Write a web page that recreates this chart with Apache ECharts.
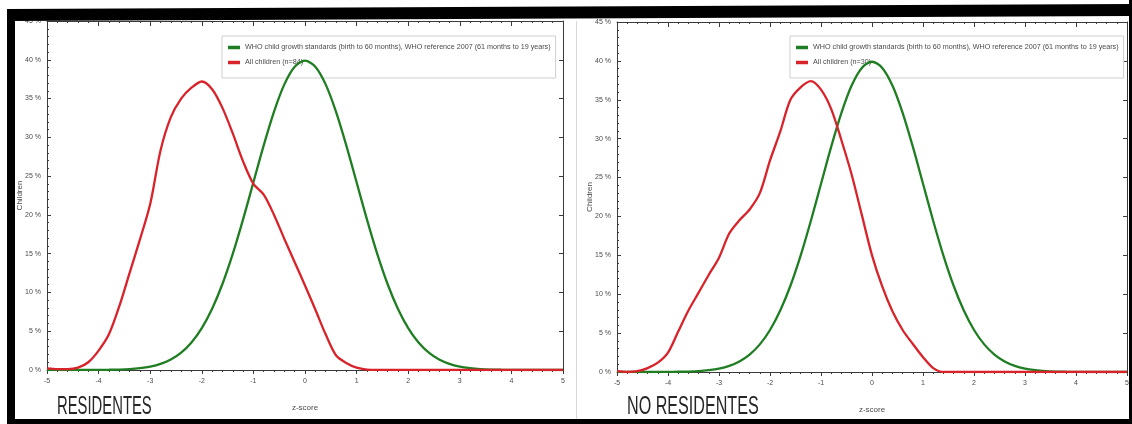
<!DOCTYPE html>
<html>
<head>
<meta charset="utf-8">
<script src="https://cdn.jsdelivr.net/npm/echarts@6/dist/echarts.min.js"></script>
<style>
  html, body { margin: 0; padding: 0; background: #ffffff; }
  #chart { width: 1132px; height: 424px; }
</style>
</head>
<body>
<div id="chart"></div>
<script>
// z-score positions shared by every curve (step 0.2)
const zScores = [-5.0, -4.8, -4.6, -4.4, -4.2, -4.0, -3.8, -3.6, -3.4, -3.2,
  -3.0, -2.8, -2.6, -2.4, -2.2, -2.0, -1.8, -1.6, -1.4, -1.2,
  -1.0, -0.8, -0.6, -0.4, -0.2, 0.0, 0.2, 0.4, 0.6, 0.8,
  1.0, 1.2, 1.4, 1.6, 1.8, 2.0, 2.2, 2.4, 2.6, 2.8,
  3.0, 3.2, 3.4, 3.6, 3.8, 4.0, 4.2, 4.4, 4.6, 4.8, 5.0];

// WHO reference distribution (% of children)
const whoReference = [0, 0, 0, 0, 0, 0.01, 0.03, 0.06, 0.12, 0.24,
  0.44, 0.79, 1.36, 2.24, 3.55, 5.40, 7.90, 11.09, 14.97, 19.42,
  24.20, 28.97, 33.32, 36.83, 39.10, 39.89, 39.10, 36.83, 33.32, 28.97,
  24.20, 19.42, 14.97, 11.09, 7.90, 5.40, 3.55, 2.24, 1.36, 0.79,
  0.44, 0.24, 0.12, 0.06, 0.03, 0.01, 0, 0, 0, 0, 0];

// Residents (n=84)
const residentes = [0.2, 0.1, 0.1, 0.3, 1.0, 2.5, 4.6, 8.2, 12.5, 16.8,
  21.4, 28.3, 32.6, 35.0, 36.4, 37.2, 36.2, 33.8, 30.5, 26.9,
  24.0, 22.6, 20.0, 16.9, 13.9, 10.9, 7.8, 4.6, 1.9, 0.9,
  0.3, 0.05, 0, 0, 0, 0, 0, 0, 0, 0,
  0, 0, 0, 0, 0, 0, 0, 0, 0, 0, 0];

// Non-residents (n=30)
const noResidentes = [0.1, 0.0, 0.1, 0.5, 1.2, 2.5, 5.2, 7.9, 10.2, 12.5,
  14.7, 17.8, 19.5, 20.9, 23.0, 27.2, 30.9, 35.0, 36.6, 37.4,
  36.3, 33.8, 29.8, 25.4, 20.2, 15.0, 11.0, 7.8, 5.4, 3.6,
  1.9, 0.5, 0, 0, 0, 0, 0, 0, 0, 0,
  0, 0, 0, 0, 0, 0, 0, 0, 0, 0, 0];

const xTicks = { min: -5, max: 5, interval: 1 };
const yTicks = { min: 0, max: 45, interval: 5 };

const whoName = 'WHO child growth standards (birth to 60 months), WHO reference 2007 (61 months to 19 years)';
const panelNames = ['All children (n=84)', 'All children (n=30)'];
const panelTitles = ['RESIDENTES', 'NO RESIDENTES'];

const GREEN = '#1f7d22';
const RED = '#d9232b';
const AXIS = '#3a3a3a';
const TEXT = '#4a4a4a';
const FONT = 'Liberation Sans';

const pairs = (vals) => zScores.map((z, i) => [z, vals[i]]);

const grids = [
  { left: 47, right: 569, top: 21, bottom: 54 },
  { left: 617, right: -2, top: 22, bottom: 52 }
];

function bottomX(gi) {
  return {
    gridIndex: gi, type: 'value', position: 'bottom',
    min: xTicks.min, max: xTicks.max, interval: xTicks.interval,
    axisLine: { onZero: false, lineStyle: { color: AXIS, width: 1 } },
    axisTick: { show: true, length: 4, lineStyle: { color: AXIS } },
    minorTick: { show: true, splitNumber: 5, length: 2, lineStyle: { color: AXIS } },
    splitLine: { show: false },
    axisLabel: { color: TEXT, fontSize: 7, margin: 8, fontFamily: FONT },
    name: 'z-score', nameLocation: 'middle', nameGap: 34, nameMoveOverlap: false,
    nameTextStyle: { color: TEXT, fontSize: 8, fontFamily: FONT }
  };
}
function topX(gi) {
  return {
    gridIndex: gi, type: 'value', position: 'top',
    min: xTicks.min, max: xTicks.max, interval: xTicks.interval,
    axisLine: { onZero: false, lineStyle: { color: AXIS, width: 1 } },
    axisTick: { show: true, inside: true, length: 5, lineStyle: { color: AXIS } },
    minorTick: { show: true, splitNumber: 5, length: 2, lineStyle: { color: AXIS } },
    splitLine: { show: false },
    axisLabel: { show: false }
  };
}
function leftY(gi) {
  return {
    gridIndex: gi, type: 'value', position: 'left',
    min: yTicks.min, max: yTicks.max, interval: yTicks.interval,
    axisLine: { show: true, onZero: false, lineStyle: { color: AXIS, width: 1 } },
    axisTick: { show: true, inside: true, length: 4, lineStyle: { color: AXIS } },
    minorTick: { show: true, splitNumber: 5, length: 2, lineStyle: { color: AXIS } },
    splitLine: { show: false },
    axisLabel: { color: TEXT, fontSize: 7, margin: 6, formatter: '{value} %', fontFamily: FONT },
    name: 'Children', nameLocation: 'middle', nameGap: 23, nameMoveOverlap: false,
    nameTextStyle: { color: TEXT, fontSize: 8, fontFamily: FONT }
  };
}
function rightY(gi) {
  return {
    gridIndex: gi, type: 'value', position: 'right',
    min: yTicks.min, max: yTicks.max, interval: yTicks.interval,
    axisLine: { show: true, onZero: false, lineStyle: { color: AXIS, width: 1 } },
    axisTick: { show: true, inside: true, length: 4, lineStyle: { color: AXIS } },
    minorTick: { show: false },
    splitLine: { show: false },
    axisLabel: { show: false }
  };
}

function curve(name, vals, color, gi) {
  return {
    name: name, type: 'line', xAxisIndex: gi * 2, yAxisIndex: gi * 2,
    data: pairs(vals), smooth: 0.3, showSymbol: false, symbol: 'none',
    lineStyle: { color: color, width: 2.3 }, itemStyle: { color: color },
    clip: true, z: 3
  };
}

// legend box sits underneath the curves
function legendAt(left, names) {
  return {
    left: left, top: 36, orient: 'vertical', z: 1,
    data: names,
    icon: 'rect', itemWidth: 12, itemHeight: 3.5, itemGap: 8,
    padding: [8, 5, 12, 6],
    backgroundColor: '#ffffff', borderColor: '#cfcfcf', borderWidth: 1,
    textStyle: { color: TEXT, fontSize: 7.2, fontFamily: FONT },
    selectedMode: false
  };
}

const option = {
  backgroundColor: '#ffffff',
  animation: false,
  grid: grids,
  xAxis: [bottomX(0), topX(0), bottomX(1), topX(1)],
  yAxis: [leftY(0), rightY(0), leftY(1), rightY(1)],
  legend: [
    legendAt(222, [whoName, panelNames[0]]),
    legendAt(790, [whoName, panelNames[1]])
  ],
  series: [
    curve(whoName, whoReference, GREEN, 0),
    curve(panelNames[0], residentes, RED, 0),
    curve(whoName, whoReference, GREEN, 1),
    curve(panelNames[1], noResidentes, RED, 1)
  ],
  graphic: [
    // panel divider
    { type: 'line', shape: { x1: 576.5, y1: 21, x2: 576.5, y2: 419 }, style: { stroke: '#d8d8d8', lineWidth: 1 }, z: 50 },
    // panel titles
    { type: 'text', x: 57, y: 394, scaleX: 0.57, z: 60,
      style: { text: panelTitles[0], x: 0, y: 0, font: '26px "Liberation Sans"', fill: '#262626', textVerticalAlign: 'top' } },
    { type: 'text', x: 627, y: 394, scaleX: 0.62, z: 60,
      style: { text: panelTitles[1], x: 0, y: 0, font: '26px "Liberation Sans"', fill: '#262626', textVerticalAlign: 'top' } },
    // black frame
    { type: 'polygon', shape: { points: [[7, 9], [1132, 4], [1132, 16], [7, 21]] }, style: { fill: '#000' }, z: 100 },
    { type: 'rect', shape: { x: 7, y: 9, width: 8, height: 415 }, style: { fill: '#000' }, z: 100 },
    { type: 'rect', shape: { x: 7, y: 419, width: 1125, height: 5 }, style: { fill: '#000' }, z: 100 },
    { type: 'rect', shape: { x: 1129, y: 0, width: 3, height: 424 }, style: { fill: '#000' }, z: 100 }
  ]
};

const chart = echarts.init(document.getElementById('chart'), null, { renderer: 'canvas' });
chart.setOption(option);
</script>
</body>
</html>
